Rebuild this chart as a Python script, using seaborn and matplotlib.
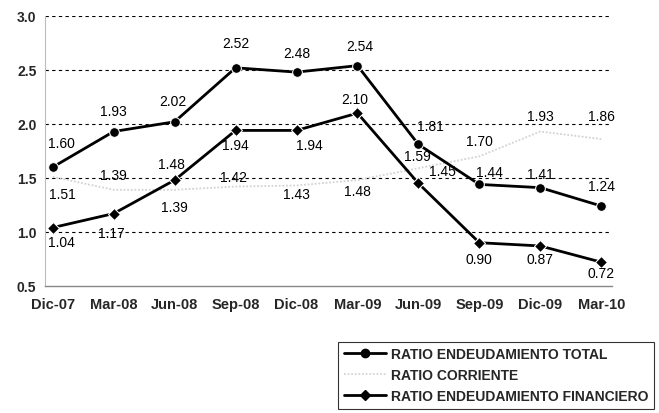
"""
plot.py - ratios de endeudamiento y corriente, Dic-07 a Mar-10
"""

import matplotlib

matplotlib.use("Agg")

import matplotlib.pyplot as plt
import pandas as pd
import seaborn as sns
from matplotlib.lines import Line2D


PERIODS = ["Dic-07", "Mar-08", "Jun-08", "Sep-08", "Dic-08",
           "Mar-09", "Jun-09", "Sep-09", "Dic-09", "Mar-10"]
RATIO_TOTAL = [1.60, 1.93, 2.02, 2.52, 2.48, 2.54, 1.81, 1.44, 1.41, 1.24]
RATIO_CORRIENTE = [1.51, 1.39, 1.39, 1.42, 1.43, 1.48, 1.59, 1.70, 1.93, 1.86]
RATIO_FINANCIERO = [1.04, 1.17, 1.48, 1.94, 1.94, 2.10, 1.45, 0.90, 0.87, 0.72]

SERIES_NAMES = ["RATIO ENDEUDAMIENTO TOTAL", "RATIO CORRIENTE",
                "RATIO ENDEUDAMIENTO FINANCIERO"]

# label offsets in pixels (dx, dy) for each point
OFF_TOTAL = [(9, 24), (0, 21), (-2, 21), (0, 25), (0, 19), (2, 20), (12, 18), (10, 12), (0, 14), (0, 20)]
OFF_CORR = [(10, -17), (0, 15), (0, -17), (-2, 10), (0, -9), (0, -11), (-1, 12), (0, 15), (0, 16), (0, 23)]
OFF_FIN = [(9, -14), (-2, -19), (-3, 16), (0, -15), (13, -15), (-3, 14), (24, 12), (0, -16), (0, -13), (0, -11)]

sns.set_style("white")
plt.rcParams["font.family"] = ["Liberation Sans", "DejaVu Sans"]

df = pd.DataFrame({
    "period": PERIODS * 3,
    "value": RATIO_TOTAL + RATIO_CORRIENTE + RATIO_FINANCIERO,
    "serie": [SERIES_NAMES[0]] * 10 + [SERIES_NAMES[1]] * 10 + [SERIES_NAMES[2]] * 10,
})

fig = plt.figure(figsize=(6.59, 4.14), dpi=100)
ax = fig.add_axes([0.068, 0.307, 0.861, 0.652])

for y in [1.0, 1.5, 2.0, 2.5, 3.0]:
    ax.axhline(y, color="black", lw=0.8, ls=(0, (3, 3)), zorder=0)

sns.lineplot(data=df[df["serie"] == SERIES_NAMES[1]], x="period", y="value",
             color="#d3d3d3", lw=1.3, ls=(0, (1, 1)), ax=ax, zorder=2)
sns.lineplot(data=df[df["serie"] == SERIES_NAMES[0]], x="period", y="value",
             color="black", lw=2, marker="o", markersize=7, ax=ax, zorder=3)
sns.lineplot(data=df[df["serie"] == SERIES_NAMES[2]], x="period", y="value",
             color="black", lw=2, marker="D", markersize=6, ax=ax, zorder=3)

for vals, offs in [(RATIO_TOTAL, OFF_TOTAL), (RATIO_CORRIENTE, OFF_CORR), (RATIO_FINANCIERO, OFF_FIN)]:
    for i, (v, (dx, dy)) in enumerate(zip(vals, offs)):
        ax.annotate(f"{v:.2f}", (i, v), xytext=(dx, dy), textcoords="offset pixels",
                    ha="center", va="center", fontsize=10, color="black")

ax.set_xlim(-0.13, 9.18)
ax.set_ylim(0.5, 3.0)
ax.set_yticks([0.5, 1.0, 1.5, 2.0, 2.5, 3.0])
ax.set_yticklabels([f"{t:.1f}" for t in [0.5, 1.0, 1.5, 2.0, 2.5, 3.0]],
                   fontsize=10, fontweight="heavy")
ax.set_xticks(range(len(PERIODS)))
ax.set_xticklabels(PERIODS, fontsize=10.5, fontweight="bold")
ax.tick_params(axis="y", length=0, pad=6)
ax.tick_params(axis="x", length=0, pad=8)
ax.set_xlabel("")
ax.set_ylabel("")
for s in ["top", "right"]:
    ax.spines[s].set_visible(False)
ax.spines["left"].set_color("#bbbbbb")
ax.spines["bottom"].set_color("#888888")
ax.spines["left"].set_linewidth(0.8)
ax.spines["bottom"].set_linewidth(1.0)

handles = [
    Line2D([], [], color="black", lw=2, marker="o", markersize=6),
    Line2D([], [], color="#d5d5d5", lw=1.3, ls=(0, (1, 1))),
    Line2D([], [], color="black", lw=2, marker="D", markersize=5),
]
leg = fig.legend(handles, SERIES_NAMES, loc="lower left", bbox_to_anchor=(0.503, -0.006),
                 frameon=True, fancybox=False, edgecolor="black", handlelength=3,
                 handletextpad=0.4, borderpad=0.4, labelspacing=0.5,
                 prop={"family": ["Liberation Sans Narrow", "Liberation Sans"],
                       "weight": "bold", "size": 10})
leg.get_frame().set_linewidth(0.8)

fig.savefig("out.png", dpi=100)
